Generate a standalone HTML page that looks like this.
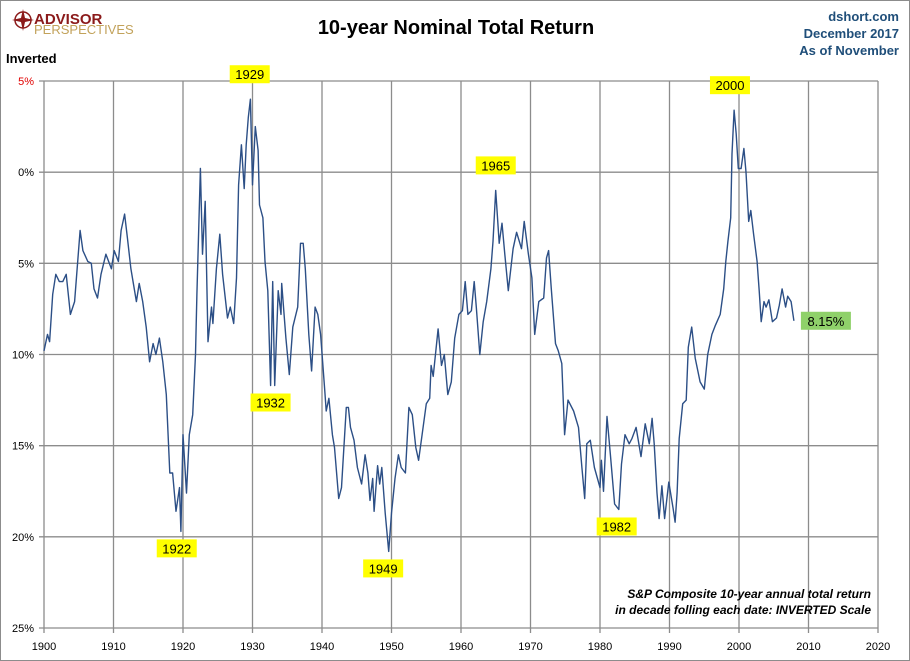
<!DOCTYPE html>
<html><head><meta charset="utf-8"><style>
body{margin:0;background:#fff;}
#wrap{position:relative;width:908px;height:659px;border:1px solid #8c8c8c;background:#fff;font-family:"Liberation Sans",sans-serif;overflow:hidden}
</style></head><body>
<div id="wrap">
<svg id="chart" width="908" height="659">
  <g>
    <circle cx="22" cy="19" r="8" fill="none" stroke="#8b1a1a" stroke-width="1.5"/>
    <polygon points="22,8 24,17 33,19 24,21 22,30 20,21 11,19 20,17" fill="#8b1a1a"/>
    <text x="33" y="23" font-size="15" font-weight="bold" fill="#8b1a1a" font-family="Liberation Sans, sans-serif">ADVISOR</text>
    <text x="33" y="33" font-size="13" fill="#c2a25a" font-family="Liberation Sans, sans-serif">PERSPECTIVES</text>
  </g>
  <text x="455" y="33" text-anchor="middle" font-size="20" font-weight="bold" fill="#000">10-year Nominal Total Return</text>
  <text x="898" y="20" text-anchor="end" font-size="13" font-weight="bold" fill="#1f4e79">dshort.com</text>
  <text x="898" y="37" text-anchor="end" font-size="13" font-weight="bold" fill="#1f4e79">December 2017</text>
  <text x="898" y="54" text-anchor="end" font-size="13" font-weight="bold" fill="#1f4e79">As of November</text>
  <text x="5" y="62" font-size="13" font-weight="bold" fill="#000">Inverted</text>
  <g id="grid"></g>
  <g id="series"></g>
  <g id="labels"></g>
  <text x="870" y="597" text-anchor="end" font-size="12" font-style="italic" font-weight="bold" fill="#000">S&amp;P Composite 10-year annual total return</text>
  <text x="870" y="613" text-anchor="end" font-size="12" font-style="italic" font-weight="bold" fill="#000">in decade folling each date: INVERTED Scale</text>
</svg>
</div>
<script>
const years=[1900,1900.5,1900.8,1901.25,1901.7,1902.2,1902.7,1903.2,1903.8,1904.4,1905.2,1905.6,1906.3,1906.8,1907.2,1907.7,1908.2,1908.9,1909.7,1910.1,1910.7,1911.1,1911.6,1912.0,1912.5,1913.3,1913.7,1914.2,1914.7,1915.2,1915.7,1916.1,1916.6,1917.1,1917.6,1918.1,1918.5,1919.0,1919.5,1919.7,1920.0,1920.5,1920.9,1921.4,1921.8,1922.0,1922.5,1922.8,1923.2,1923.6,1924.1,1924.3,1924.8,1925.3,1925.7,1926.4,1926.8,1927.3,1927.7,1928.0,1928.4,1928.8,1929.1,1929.4,1929.7,1930.0,1930.4,1930.8,1931.0,1931.5,1931.8,1932.2,1932.6,1932.9,1933.2,1933.7,1934.1,1934.2,1934.8,1935.3,1935.8,1936.5,1936.9,1937.3,1937.6,1938.1,1938.5,1939.0,1939.4,1939.8,1940.4,1940.6,1941.0,1941.5,1941.8,1942.4,1942.8,1943.0,1943.5,1943.8,1944.1,1944.6,1945.1,1945.7,1946.2,1946.6,1946.9,1947.3,1947.5,1948.0,1948.3,1948.6,1949.1,1949.6,1950.0,1950.5,1951.0,1951.4,1952.0,1952.5,1953.0,1953.5,1953.9,1954.4,1955.0,1955.5,1955.7,1956.0,1956.7,1957.2,1957.6,1958.1,1958.6,1959.1,1959.7,1960.2,1960.6,1961.0,1961.5,1961.9,1962.2,1962.7,1963.2,1963.7,1964.3,1964.6,1965.0,1965.5,1965.9,1966.3,1966.8,1967.5,1968.0,1968.7,1969.1,1969.7,1970.2,1970.6,1971.2,1971.9,1972.3,1972.6,1973.0,1973.6,1974.0,1974.5,1974.9,1975.4,1976.2,1976.9,1977.4,1977.8,1978.1,1978.6,1979.2,1980.0,1980.2,1980.5,1981.0,1981.5,1982.1,1982.7,1983.1,1983.6,1984.2,1984.6,1985.2,1985.9,1986.5,1987.1,1987.5,1987.8,1988.2,1988.5,1988.9,1989.3,1989.9,1990.5,1990.8,1991.1,1991.4,1991.9,1992.4,1992.7,1993.2,1993.7,1994.4,1995.0,1995.5,1996.1,1996.6,1997.3,1997.8,1998.1,1998.4,1998.8,1999.0,1999.3,1999.6,1999.9,2000.3,2000.7,2001.0,2001.4,2001.7,2002.1,2002.6,2002.9,2003.2,2003.6,2003.9,2004.3,2004.8,2005.4,2005.8,2006.2,2006.7,2007.0,2007.5,2007.9];
const returns=[9.8,8.9,9.3,6.7,5.6,6.0,6.0,5.6,7.8,7.1,3.2,4.3,4.9,5.0,6.4,6.9,5.6,4.5,5.3,4.3,4.9,3.2,2.3,3.6,5.3,7.1,6.1,7.1,8.5,10.4,9.4,10.0,9.1,10.4,12.2,16.5,16.5,18.6,17.3,19.7,14.4,17.6,14.4,13.3,10.0,6.7,-0.2,4.5,1.6,9.3,7.4,8.3,5.3,3.4,5.6,8.0,7.4,8.3,5.8,0.7,-1.5,0.9,-1.5,-3.0,-4.0,0.7,-2.5,-1.2,1.8,2.5,4.9,6.5,11.7,6.0,11.7,6.5,7.8,6.1,9.1,11.1,8.5,7.4,3.9,3.9,5.3,8.9,10.9,7.4,7.8,8.9,12.0,13.1,12.4,14.4,15.1,17.9,17.3,16.0,12.9,12.9,14.0,14.7,16.2,17.1,15.5,16.5,18.0,16.8,18.6,16.1,17.1,16.2,18.7,20.8,18.7,16.8,15.5,16.2,16.5,12.9,13.3,15.1,15.8,14.4,12.7,12.4,10.6,11.2,8.6,10.6,10.0,12.2,11.5,9.1,7.8,7.6,6.0,7.8,7.6,6.0,7.4,10.0,8.2,7.1,5.3,3.8,1.0,3.9,2.8,4.5,6.5,4.2,3.3,4.2,2.7,4.5,5.8,8.9,7.1,6.9,4.7,4.3,6.4,9.4,9.8,10.5,14.4,12.5,13.1,14.0,16.2,17.9,14.9,14.7,16.2,17.3,15.8,17.5,13.4,15.5,18.2,18.5,16.0,14.4,14.9,14.6,14.0,15.6,13.8,14.9,13.5,14.9,17.6,19.0,17.2,19.0,17.0,18.4,19.2,17.6,14.6,12.7,12.5,9.6,8.5,10.2,11.5,11.9,10.0,8.9,8.4,7.8,6.4,4.9,3.8,2.5,-1.0,-3.4,-2.1,-0.2,-0.2,-1.3,0,2.7,2.1,3.4,4.9,6.5,8.2,7.1,7.4,7.0,8.2,8.0,7.3,6.4,7.4,6.8,7.1,8.15];
const xTicks=[1900,1910,1920,1930,1940,1950,1960,1970,1980,1990,2000,2010,2020];
const yTicks=[-5,0,5,10,15,20,25];
const yTickLabels=["5%","0%","5%","10%","15%","20%","25%"];
const annoYears=["1929","1922","1932","1949","1965","1982","2000"];
const annoX=[1929.6,1919.1,1932.6,1948.8,1965.0,1982.4,1998.7];
const annoV=[-4.0,19.7,11.7,20.8,1.0,18.5,-3.4];
const annoAbove=[true,false,false,false,true,false,true];
const lastLabel="8.15%";

const NS="http://www.w3.org/2000/svg";
const X0=43,X1=877,Y0=80,Y1=627;
function xs(y){return X0+(y-1900)/120*(X1-X0);}
function ys(v){return Y0+(v+5)/30*(Y1-Y0);}
function mk(tag,attrs,parent){const e=document.createElementNS(NS,tag);for(const k in attrs)e.setAttribute(k,attrs[k]);parent.appendChild(e);return e;}
const grid=document.getElementById('grid');
yTicks.forEach((t,i)=>{
  const l=mk('line',{x1:X0-5,x2:X1,y1:ys(t),y2:ys(t),stroke:'#8c8c8c','stroke-width':1.3},grid);
  
  
  const tx=mk('text',{x:33,y:ys(t)+4,'text-anchor':'end','font-size':11,fill:i===0?'#e00000':'#000'},grid);
  tx.textContent=yTickLabels[i];
  
  
});
xTicks.forEach(t=>{
  const l=mk('line',{x1:xs(t),x2:xs(t),y1:Y0,y2:Y1+5,stroke:'#8c8c8c','stroke-width':1.3},grid);
  
  
  const tx=mk('text',{x:xs(t),y:649,'text-anchor':'middle','font-size':11,fill:'#000'},grid);
  tx.textContent=String(t);
  
  
});
const pts=years.map((y,i)=>xs(y).toFixed(1)+','+ys(returns[i]).toFixed(1)).join(' ');
const line=mk('polyline',{points:pts,fill:'none',stroke:'#2c4f86','stroke-width':1.4,'stroke-linejoin':'round'},document.getElementById('series'));


const lab=document.getElementById('labels');
annoYears.forEach((t,i)=>{
  const cx=xs(annoX[i]);
  const cy=annoAbove[i]?ys(annoV[i])-25:ys(annoV[i])+17;
  const g=mk('g',{},lab);
  
  
  mk('rect',{x:cx-20,y:cy-9,width:40,height:18,fill:'#ffff00'},g);
  const tx=mk('text',{x:cx,y:cy+5,'text-anchor':'middle','font-size':13,fill:'#000'},g);
  tx.textContent=t;
});
const gl=mk('g',{},lab);


const lx=xs(years[years.length-1])+7, ly=ys(returns[returns.length-1]);
mk('rect',{x:lx,y:ly-9,width:50,height:18,fill:'#8fd16a'},gl);
const lt=mk('text',{x:lx+25,y:ly+5,'text-anchor':'middle','font-size':13,fill:'#000'},gl);
lt.textContent=lastLabel;
</script>
</body></html>
